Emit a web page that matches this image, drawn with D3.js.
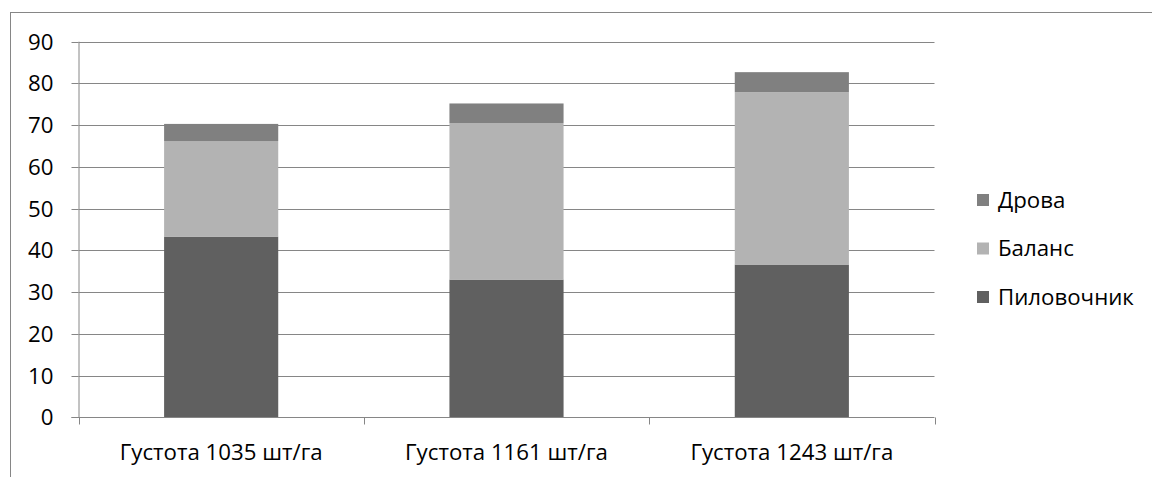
<!DOCTYPE html>
<html><head><meta charset="utf-8">
<script src="https://cdn.jsdelivr.net/npm/d3@7"></script>
<style>
body{margin:0;background:#fff;}
svg{display:block;font-family:"Open Sans",sans-serif;}
</style></head>
<body><svg id="c" width="1152" height="477"></svg>
<script>
const categories = ["Густота 1035 шт/га", "Густота 1161 шт/га", "Густота 1243 шт/га"];
const seriesNames = ["Пиловочник", "Баланс", "Дрова"];
const pilovochnik = [43.3, 33.0, 36.6];
const balans = [22.9, 37.5, 41.3];
const drova = [4.1, 4.7, 4.8];
const yTicks = [0, 10, 20, 30, 40, 50, 60, 70, 80, 90];
const colors = ["#606060", "#b3b3b3", "#808080"];

const FONT = "Open Sans";
const svg = d3.select("#c");

// fit font size so category label width matches the reference (~203px)
const probe = svg.append("text").attr("font-family",FONT).attr("font-size",20).text(categories[0]);
const FS = 20 * 203 / probe.node().getComputedTextLength();
probe.remove();

const m = {left: 78.5, right: 934.5, top: 41.7, bottom: 417.3};

svg.append("rect").attr("x",10.5).attr("y",12.5).attr("width",1200).attr("height",600)
  .attr("fill","none").attr("stroke","#868686").attr("stroke-width",1);

const x = d3.scaleBand().domain(categories).range([m.left, m.right]).paddingInner(0.6).paddingOuter(0.3);
const xOuter = d3.scaleBand().domain(categories).range([m.left, m.right]);
const y = d3.scaleLinear().domain([0, 90]).range([m.bottom, m.top]);

svg.append("g").selectAll("line").data(yTicks.filter(d=>d>0)).join("line")
  .attr("x1", m.left).attr("x2", m.right)
  .attr("y1", d=>Math.round(y(d))+0.5).attr("y2", d=>Math.round(y(d))+0.5)
  .attr("stroke","#868686").attr("stroke-width",1);

const yAxis = d3.axisLeft(y).tickValues(yTicks).tickSize(7).tickPadding(18).tickFormat(d3.format("d"));
const gy = svg.append("g").attr("transform",`translate(${m.left},0)`).call(yAxis);
gy.attr("font-family",FONT).attr("font-size",FS);
gy.select(".domain").attr("stroke","#868686").attr("d",`M0.5,${m.top}V${m.bottom}`);
gy.selectAll(".tick line").attr("stroke","#868686");
gy.selectAll(".tick").attr("transform", d=>`translate(0,${Math.round(y(d))+0.5})`);
gy.selectAll("text").attr("fill","#000");

const data = categories.map((c,i)=>({cat:c, "Пиловочник":pilovochnik[i], "Баланс":balans[i], "Дрова":drova[i]}));
const stack = d3.stack().keys(seriesNames)(data);
svg.append("g").selectAll("g").data(stack).join("g").attr("fill",(d,i)=>colors[i])
  .selectAll("rect").data(d=>d).join("rect")
  .attr("x", d=>x(d.data.cat)).attr("width", x.bandwidth())
  .attr("y", d=>y(d[1])).attr("height", d=>y(d[0])-y(d[1]));

const xAxis = d3.axisBottom(xOuter).tickSize(0).tickPadding(0);
const gx = svg.append("g").attr("transform",`translate(0,${Math.round(m.bottom)+0.5})`).call(xAxis);
gx.attr("font-family",FONT).attr("font-size",FS);
gx.select(".domain").attr("stroke","#868686").attr("d",`M${m.left-7},0H${m.right}`);
gx.selectAll("text").attr("fill","#000").attr("y",42).attr("dy",null);
const bounds = [0,1,2,3].map(i=>m.left + i*xOuter.step());
gx.append("g").selectAll("line").data(bounds).join("line")
  .attr("x1",d=>Math.round(d)+0.5).attr("x2",d=>Math.round(d)+0.5).attr("y1",0).attr("y2",7)
  .attr("stroke","#868686");

const legendItems = ["Дрова","Баланс","Пиловочник"];
const legendColors = {"Дрова":colors[2],"Баланс":colors[1],"Пиловочник":colors[0]};
const lg = svg.append("g").attr("transform","translate(977,200)").attr("font-family",FONT).attr("font-size",FS);
const li = lg.selectAll("g").data(legendItems).join("g").attr("transform",(d,i)=>`translate(0,${i*48.5})`);
li.append("rect").attr("x",0).attr("y",-6).attr("width",12).attr("height",12).attr("fill",d=>legendColors[d]);
li.append("text").attr("x",21).attr("y",0).attr("dy","0.35em").text(d=>d);
</script></body></html>
